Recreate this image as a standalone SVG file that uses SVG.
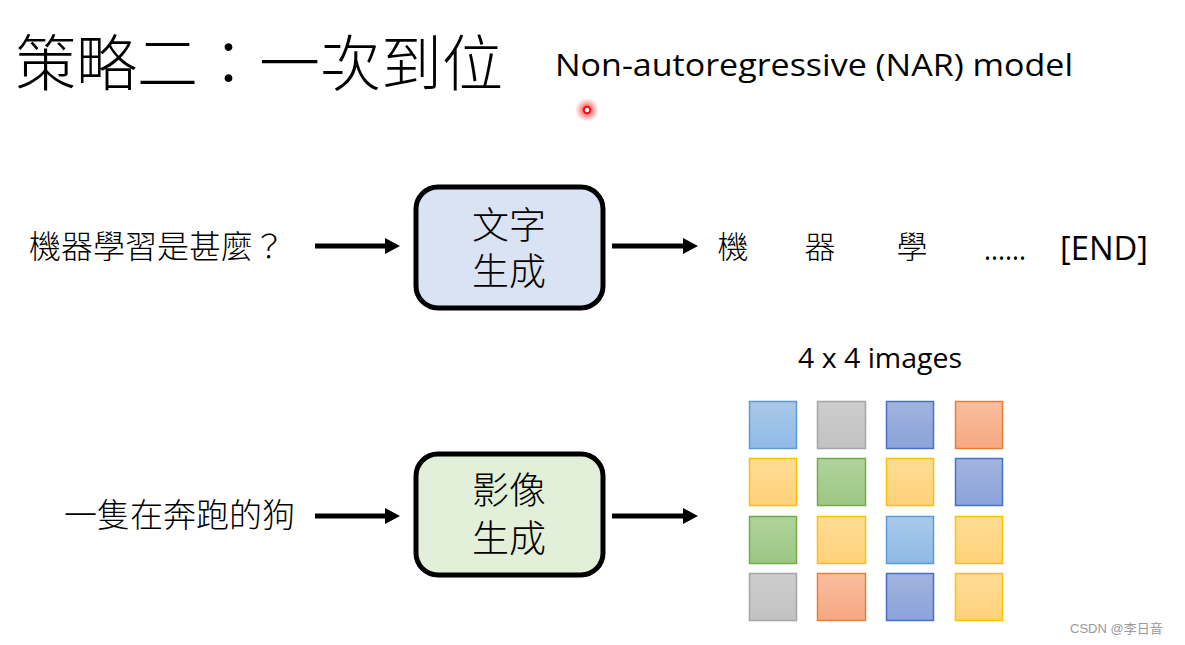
<svg xmlns="http://www.w3.org/2000/svg" width="1185" height="645" viewBox="0 0 1185 645">
<style>
.cjk{font-family:"Noto Sans CJK TC","Noto Sans CJK SC",sans-serif;fill:#000;font-weight:300}
.lat{font-family:"Open Sans","Liberation Sans",sans-serif;fill:#000}
.box{stroke:#000;stroke-width:5}
.conn{stroke:#000;stroke-width:5;fill:none}
.sq{stroke-width:1.5}
</style>
<defs>
<marker id="ah" markerWidth="3" markerHeight="3.2" refX="0" refY="1.6" orient="auto" markerUnits="strokeWidth" viewBox="0 0 3 3.2">
<path d="M0,0 L3,1.6 L0,3.2 Z" fill="#000"/>
</marker>
<linearGradient id="gLB" x1="0" y1="0" x2="0" y2="1"><stop offset="0" stop-color="#a9c9ea"/><stop offset="1" stop-color="#8fbbe6"/></linearGradient>
<linearGradient id="gGR" x1="0" y1="0" x2="0" y2="1"><stop offset="0" stop-color="#cdcdcd"/><stop offset="1" stop-color="#c2c2c2"/></linearGradient>
<linearGradient id="gDB" x1="0" y1="0" x2="0" y2="1"><stop offset="0" stop-color="#a3b3de"/><stop offset="1" stop-color="#8aa3da"/></linearGradient>
<linearGradient id="gOR" x1="0" y1="0" x2="0" y2="1"><stop offset="0" stop-color="#f9bf9f"/><stop offset="1" stop-color="#f6a882"/></linearGradient>
<linearGradient id="gYE" x1="0" y1="0" x2="0" y2="1"><stop offset="0" stop-color="#ffdc95"/><stop offset="1" stop-color="#ffd17a"/></linearGradient>
<linearGradient id="gGN" x1="0" y1="0" x2="0" y2="1"><stop offset="0" stop-color="#b1d39b"/><stop offset="1" stop-color="#9dc684"/></linearGradient>
<radialGradient id="glow"><stop offset="0" stop-color="#ff1010" stop-opacity="1"/><stop offset="0.45" stop-color="#ff3030" stop-opacity="0.55"/><stop offset="1" stop-color="#ff6060" stop-opacity="0"/></radialGradient>
</defs>
<rect width="1185" height="645" fill="#fff"/>

<g id="title">
<text class="cjk" x="15" y="86" font-size="61">策略二：一次到位</text>
<text class="lat" x="555" y="76" font-size="31" textLength="518" lengthAdjust="spacingAndGlyphs">Non-autoregressive (NAR) model</text>
</g>

<g id="pointer">
<circle cx="587" cy="110" r="12" fill="url(#glow)"/>
<circle cx="587" cy="110" r="3.2" fill="#fff" stroke="#f01010" stroke-width="2"/>
</g>

<g id="connectors">
<line class="conn" x1="315" y1="246" x2="385" y2="246" marker-end="url(#ah)"/>
<line class="conn" x1="612" y1="246" x2="683" y2="246" marker-end="url(#ah)"/>
<line class="conn" x1="315" y1="516" x2="385" y2="516" marker-end="url(#ah)"/>
<line class="conn" x1="612" y1="516" x2="683" y2="516" marker-end="url(#ah)"/>
</g>

<g id="input-text">
<text class="cjk" x="29" y="258" font-size="32">機器學習是甚麼？</text>
</g>

<g id="text-gen">
<rect class="box" x="416" y="187" width="187" height="121" rx="22" fill="#dae3f3"/>
<text class="cjk" font-size="37" text-anchor="middle"><tspan x="509" y="239">文字</tspan><tspan x="509" y="285">生成</tspan></text>
</g>

<g id="output-text">
<text class="cjk" x="733" y="258" font-size="31" text-anchor="middle">機</text>
<text class="cjk" x="820" y="258" font-size="31" text-anchor="middle">器</text>
<text class="cjk" x="912" y="258" font-size="31" text-anchor="middle">學</text>
<text class="lat" x="984" y="260" font-size="30" textLength="42" lengthAdjust="spacingAndGlyphs">......</text>
<text class="lat" x="1060" y="260" font-size="33" textLength="88" lengthAdjust="spacingAndGlyphs">[END]</text>
</g>

<g id="input-image">
<text class="cjk" x="64" y="527" font-size="33">一隻在奔跑的狗</text>
</g>

<g id="image-gen">
<rect class="box" x="416" y="454" width="187" height="121" rx="22" fill="#e2efd9"/>
<text class="cjk" font-size="37" text-anchor="middle"><tspan x="509" y="504">影像</tspan><tspan x="509" y="552">生成</tspan></text>
</g>

<g id="image-grid">
<text class="lat" x="798" y="368" font-size="27" textLength="164" lengthAdjust="spacingAndGlyphs">4 x 4 images</text>
<rect class="sq" x="749.5" y="401.5" width="47" height="47" fill="url(#gLB)" stroke="#5b9bd5"/>
<rect class="sq" x="817.5" y="401.5" width="48" height="47" fill="url(#gGR)" stroke="#a5a5a5"/>
<rect class="sq" x="886.5" y="401.5" width="47" height="47" fill="url(#gDB)" stroke="#4472c4"/>
<rect class="sq" x="955.5" y="401.5" width="47" height="47" fill="url(#gOR)" stroke="#ed7d31"/>

<rect class="sq" x="749.5" y="458.5" width="47" height="47" fill="url(#gYE)" stroke="#ffc000"/>
<rect class="sq" x="817.5" y="458.5" width="48" height="47" fill="url(#gGN)" stroke="#70ad47"/>
<rect class="sq" x="886.5" y="458.5" width="47" height="47" fill="url(#gYE)" stroke="#ffc000"/>
<rect class="sq" x="955.5" y="458.5" width="47" height="47" fill="url(#gDB)" stroke="#4472c4"/>

<rect class="sq" x="749.5" y="516.5" width="47" height="47" fill="url(#gGN)" stroke="#70ad47"/>
<rect class="sq" x="817.5" y="516.5" width="48" height="47" fill="url(#gYE)" stroke="#ffc000"/>
<rect class="sq" x="886.5" y="516.5" width="47" height="47" fill="url(#gLB)" stroke="#5b9bd5"/>
<rect class="sq" x="955.5" y="516.5" width="47" height="47" fill="url(#gYE)" stroke="#ffc000"/>

<rect class="sq" x="749.5" y="573.5" width="47" height="47" fill="url(#gGR)" stroke="#a5a5a5"/>
<rect class="sq" x="817.5" y="573.5" width="48" height="47" fill="url(#gOR)" stroke="#ed7d31"/>
<rect class="sq" x="886.5" y="573.5" width="47" height="47" fill="url(#gDB)" stroke="#4472c4"/>
<rect class="sq" x="955.5" y="573.5" width="47" height="47" fill="url(#gYE)" stroke="#ffc000"/>
</g>

<g id="watermark">
<text x="1070" y="633" font-size="13" fill="#9a9a9a" font-family="'Liberation Sans','Noto Sans CJK SC',sans-serif">CSDN @李日音</text>
</g>
</svg>
